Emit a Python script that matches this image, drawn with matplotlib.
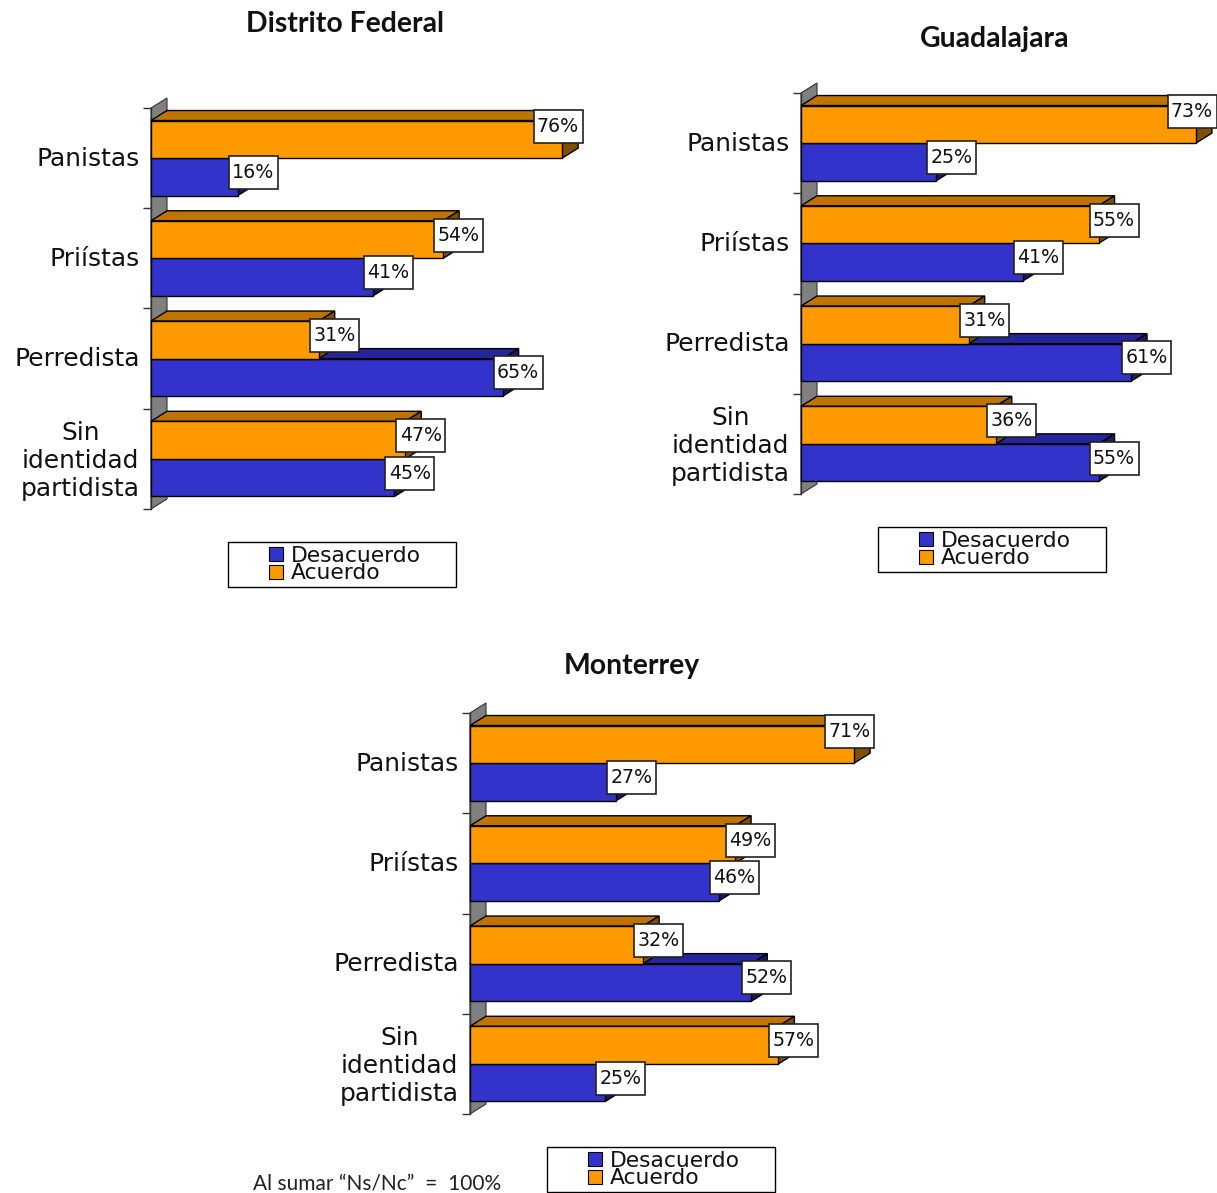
import matplotlib
matplotlib.use('Agg')
import matplotlib.pyplot as plt
from matplotlib.patches import Polygon, Rectangle

W, H = 1217, 1193

categories = ['Panistas', 'Priístas', 'Perredista', 'Sin\nidentidad\npartidista']
series_names = ['Desacuerdo', 'Acuerdo']

df_acuerdo = [76, 54, 31, 47]
df_desacuerdo = [16, 41, 65, 45]
gdl_acuerdo = [73, 55, 31, 36]
gdl_desacuerdo = [25, 41, 61, 55]
mty_acuerdo = [71, 49, 32, 57]
mty_desacuerdo = [27, 46, 52, 25]

ORANGE = ('#FF9900', '#BF7300', '#805000')  # front, top, side
BLUE = ('#3333CC', '#26269A', '#1A1A66')

PX_PER_PCT = 5.41
ROW_PX = 100.25
DEPTH_X, DEPTH_Y = 16, 10

plt.rcParams['font.family'] = ['DejaVu Sans']
fig = plt.figure(figsize=(W / 100, H / 100), dpi=100)


def px_axes(left, top, width, height):
    return fig.add_axes([left / W, 1 - (top + height) / H, width / W, height / H])


def draw_bar(ax, y, height, value, colors):
    # 3d look: top and side faces are offset in pixels, converted to data units
    dx = DEPTH_X / PX_PER_PCT
    dy = DEPTH_Y / ROW_PX
    top = y - height / 2
    bottom = y + height / 2
    ax.add_patch(Polygon([(0, top), (dx, top - dy), (value + dx, top - dy), (value, top)],
                         fc=colors[1], ec='black', lw=1, zorder=3))
    ax.add_patch(Polygon([(value, top), (value + dx, top - dy), (value + dx, bottom - dy), (value, bottom)],
                         fc=colors[2], ec='black', lw=1, zorder=3))
    ax.barh(y, value, height=height, color=colors[0], edgecolor='black', linewidth=1, zorder=4)


def value_label(ax, y, value, max_center):
    # Excel pushes the label back in (and up) when it would leave the chart area
    x = value + 15.5 / PX_PER_PCT
    y = y - 0.045
    if x > max_center:
        x = max_center
        y = y - 0.085
    bw = 49 / PX_PER_PCT
    bh = 33 / ROW_PX
    ax.add_patch(Rectangle((x - bw / 2, y - bh / 2), bw, bh, fc='white', ec='#222222', lw=1.2, zorder=5))
    ax.text(x, y, '%d%%' % value, ha='center', va='center', fontsize=13.7, color='#111111', zorder=6)


def panel(left, top, title, title_x, title_y, acuerdo, desacuerdo, max_px, legend_left, legend_top):
    n = len(categories)
    ax = px_axes(left, top, 440, ROW_PX * n)
    ax.set_xlim(0, 440 / PX_PER_PCT)
    ax.set_ylim(n, 0)
    ax.patch.set_visible(False)
    for s in ['top', 'right', 'bottom']:
        ax.spines[s].set_visible(False)
    ax.spines['left'].set_color('#333333')
    ax.spines['left'].set_linewidth(1)
    ax.set_xticks([])
    ax.set_yticks(range(n + 1), labels=[''] * (n + 1))
    ax.set_yticks([i + 0.48 for i in range(n)], labels=categories, minor=True)
    ax.tick_params(axis='y', which='major', length=6, width=1, color='#333333')
    ax.tick_params(axis='y', which='minor', length=0, pad=8, labelsize=17.9, labelcolor='#111111')
    for t in ax.get_yticklabels(minor=True):
        t.set_multialignment('center')
        t.set_linespacing(1.2)

    # grey side wall
    dx = DEPTH_X / PX_PER_PCT
    dy = DEPTH_Y / ROW_PX
    ax.add_patch(Polygon([(0, 0), (dx, -dy), (dx, n - dy), (0, n)], fc='#808080', ec='#333333', lw=0.8,
                         zorder=1))

    h = 0.375
    for i in range(n):
        draw_bar(ax, i + 0.5 + h / 2, h, desacuerdo[i], BLUE)
        draw_bar(ax, i + 0.5 - h / 2, h, acuerdo[i], ORANGE)
    for i in range(n):
        value_label(ax, i + 0.5 + h / 2, desacuerdo[i], max_px / PX_PER_PCT)
        value_label(ax, i + 0.5 - h / 2, acuerdo[i], max_px / PX_PER_PCT)
    for p in ax.patches:
        p.set_clip_on(False)

    fig.text(title_x / W, 1 - (title_y + 1) / H, title, ha='center', va='center', fontsize=20.4,
             fontweight='bold', family='Lato', color='#111111')

    # legend box with the two series
    fig.add_artist(Rectangle((legend_left / W, 1 - (legend_top + 45) / H), 228 / W, 45 / H,
                             transform=fig.transFigure, fc='white', ec='black', lw=1))
    handles = [Rectangle((0, 0), 1, 1, fc=BLUE[0], ec='black', lw=0.8),
               Rectangle((0, 0), 1, 1, fc=ORANGE[0], ec='black', lw=0.8)]
    fig.legend(handles, series_names, loc='upper left', frameon=False, fontsize=15.7,
               bbox_to_anchor=((legend_left + 41) / W, 1 - (legend_top + 4) / H), borderpad=0, borderaxespad=0,
               labelspacing=-0.12, handlelength=0.62, handleheight=0.6, handletextpad=0.4,
               labelcolor='#111111')


panel(151, 108, 'Distrito Federal', 345, 23, df_acuerdo, df_desacuerdo, 407, 228, 542)
panel(801, 93, 'Guadalajara', 995, 38, gdl_acuerdo, gdl_desacuerdo, 391, 878, 527)
panel(470, 713, 'Monterrey', 632, 665, mty_acuerdo, mty_desacuerdo, 380, 547, 1147)

fig.text(253 / W, 1 - 1183 / H, 'Al sumar “Ns/Nc”  =  100%', ha='left', va='center', fontsize=15,
         family='Lato', color='#222222')

fig.savefig('out.png', dpi=100)
